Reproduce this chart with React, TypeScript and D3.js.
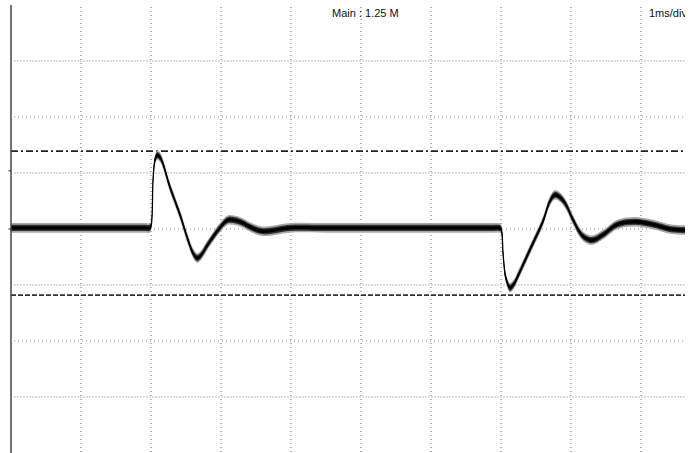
import React from "react";
import * as d3 from "d3";

// time in ms, level in divisions
const traceTime = [
  0, 1.0, 1.9, 1.98, 2.0, 2.03, 2.06, 2.09, 2.13, 2.17, 2.27, 2.41, 2.53, 2.6,
  2.66, 2.72, 2.79, 2.87, 2.99, 3.1, 3.27, 3.41, 3.59, 3.99, 4.5, 5.5, 6.5, 6.9,
  6.97, 7.0, 7.03, 7.07, 7.13, 7.19, 7.23, 7.41, 7.6, 7.7, 7.77, 7.84, 7.93,
  8.03, 8.17, 8.3, 8.46, 8.66, 8.91, 9.17, 9.41, 9.64, 9.9,
];
const traceLevel = [
  0.02, 0.02, 0.02, 0.02, 0.05, 0.9, 1.25, 1.32, 1.28, 1.17, 0.75, 0.27, -0.2,
  -0.43, -0.52, -0.46, -0.32, -0.17, 0.03, 0.16, 0.13, 0.04, -0.04, 0.02, 0.02,
  0.02, 0.02, 0.02, 0.02, 0.0, -0.45, -0.88, -1.05, -0.97, -0.87, -0.38, 0.14,
  0.5, 0.61, 0.57, 0.43, 0.16, -0.13, -0.2, -0.1, 0.08, 0.13, 0.08, 0.0, -0.02,
  -0.02,
];

const xDivs = [1, 2, 3, 4, 5, 6, 7, 8, 9];
const yDivs = [3, 2, 1, 0, -1, -2, -3];
const upperCursor = 1.39;
const lowerCursor = -1.18;
const markerLevels = [1.04, 0];

const W = 697;
const H = 453;

export default function App() {
  const x = d3.scaleLinear().domain([0, 10]).range([11, 711]);
  const y = d3.scaleLinear().domain([-4, 4]).range([453, 5]);
  const right = 685;

  const pts = traceTime.map((t, i) => ({ t, v: traceLevel[i] }));
  const curve = d3.curveCatmullRom.alpha(0.5);

  const band = (h: number) =>
    d3
      .area<{ t: number; v: number }>()
      .x((d) => x(d.t))
      .y0((d) => y(d.v - h))
      .y1((d) => y(d.v + h))
      .curve(curve)(pts) || "";

  const line =
    d3
      .line<{ t: number; v: number }>()
      .x((d) => x(d.t))
      .y((d) => y(d.v))
      .curve(curve)(pts) || "";

  return (
    <svg
      width={W}
      height={H}
      style={{ position: "absolute", left: 0, top: 0, background: "#fff" }}
    >
      <defs>
        <clipPath id="plot">
          <rect x={x(0)} y={0} width={right - x(0)} height={H} />
        </clipPath>
      </defs>

      {/* vertical grid */}
      {xDivs.map((d) => (
        <line
          key={"v" + d}
          x1={x(d)}
          x2={x(d)}
          y1={y(4) + 2}
          y2={H}
          stroke="#666"
          strokeWidth={1}
          strokeDasharray="1,3"
        />
      ))}

      {/* horizontal grid */}
      {yDivs.map((d, i) => (
        <line
          key={"h" + d}
          x1={x(0) + 3}
          x2={right}
          y1={y(d)}
          y2={y(d)}
          stroke={i % 2 === 0 ? "#bbb" : "#888"}
          strokeWidth={1}
          strokeDasharray={i % 2 === 0 ? "2,1" : "1,3"}
        />
      ))}

      {/* cursors */}
      <line
        x1={x(0)}
        x2={right}
        y1={y(upperCursor)}
        y2={y(upperCursor)}
        stroke="#222"
        strokeWidth={1.6}
        strokeDasharray="7,3,2,3"
      />
      <line
        x1={x(0)}
        x2={right}
        y1={y(lowerCursor)}
        y2={y(lowerCursor)}
        stroke="#333"
        strokeWidth={1.8}
        strokeDasharray="5,2"
      />

      {/* waveform */}
      <g clipPath="url(#plot)">
        <path d={band(0.085)} fill="#aaa" />
        <path d={band(0.055)} fill="#333" />
        <path d={band(0.03)} fill="#000" />
        <path d={line} fill="none" stroke="#000" strokeWidth={1.3} />
      </g>

      {/* left axis */}
      <line x1={x(0)} x2={x(0)} y1={y(4)} y2={H} stroke="#444" strokeWidth={1.5} />
      {markerLevels.map((m) => (
        <line
          key={"m" + m}
          x1={x(0) - 2.5}
          x2={x(0)}
          y1={y(m)}
          y2={y(m)}
          stroke="#444"
          strokeWidth={1.2}
        />
      ))}

      <g fontFamily="Liberation Sans, Arial, sans-serif" fontSize={11} fill="#111">
        <text x={332} y={17}>
          Main : 1.25 M
        </text>
        <g clipPath="url(#plot)">
          <text x={649} y={17}>
            1ms/div
          </text>
        </g>
      </g>
    </svg>
  );
}
